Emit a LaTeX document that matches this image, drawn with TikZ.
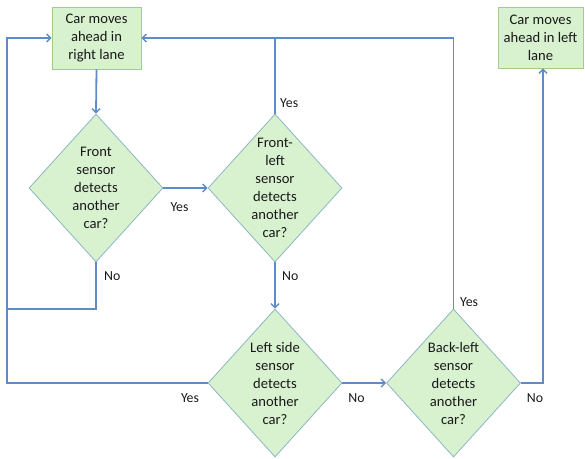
\documentclass[tikz,border=0pt]{standalone}
\usepackage{fontspec}
\setmainfont{Carlito}
\usetikzlibrary{shapes.geometric,arrows.meta}
\definecolor{boxfill}{RGB}{216,242,208}
\definecolor{boxedge}{RGB}{160,205,140}
\definecolor{diaedge}{RGB}{140,182,196}
\definecolor{flow}{RGB}{96,140,198}
\definecolor{ink}{RGB}{25,25,25}
\tikzset{
  stepbox/.style={draw=boxedge, fill=boxfill, line width=0.8pt, inner sep=0pt,
    align=center, text=ink, font=\fontsize{14.6}{18}\selectfont},
  dia/.style={diamond, draw=diaedge, fill=boxfill, line width=0.8pt,
    minimum width=134pt, minimum height=148pt, inner sep=0pt},
  dtxt/.style={align=center, text=ink, font=\fontsize{14.6}{18}\selectfont, inner sep=0pt},
  lbl/.style={text=ink, font=\fontsize{13.8}{15}\selectfont, inner sep=0pt},
  link/.style={draw=flow, line width=1.8pt},
  go/.style={link, -{Straight Barb[length=4pt,width=8pt,line width=1.4pt]}}
}
\begin{document}
\begin{tikzpicture}[x=1pt,y=-1pt]
\useasboundingbox (0,0) rectangle (585,458);

% process boxes
\node[stepbox, minimum width=89pt, minimum height=62pt] (right) at (96.5,38)
  {Car moves\\ahead in\\right lane};
\node[stepbox, minimum width=85pt, minimum height=61pt] (left) at (540.5,37.5)
  {Car moves\\ahead in left\\lane};

% decisions
\node[dia, label={[dtxt]center:Front\\sensor\\detects\\another\\car?}] (front) at (96,188) {};
\node[dia, label={[dtxt]center:Front-\\left\\sensor\\detects\\another\\car?}] (frontleft) at (275,188) {};
\node[dia, label={[dtxt]center:Left side\\sensor\\detects\\another\\car?}] (side) at (275,383) {};
\node[dia, label={[dtxt]center:Back-left\\sensor\\detects\\another\\car?}] (back) at (453.5,383) {};

% routing points
\coordinate (loopx) at (7,0);
\coordinate (merge) at (96,309);
\coordinate (exitx) at (543,383);

% connectors
\draw[go] (right.south) -- (front.north);
\draw[go] (front.east) -- (frontleft.west);
\draw[link] (frontleft.north) -- (frontleft.north |- right.east);
\draw[go] (back.north) |- (right.east);
\draw[go] (frontleft.south) -- (side.north);
\draw[link] (front.south) -- (merge) -- (merge -| loopx);
\draw[go] (side.west) -- (side.west -| loopx) -- (loopx |- right.west) -- (right.west);
\draw[go] (side.east) -- (back.west);
\draw[go] (back.east) -- (exitx) -- (exitx |- left.south);

% branch labels
\node[lbl, anchor=west] (l1) at (280,103) {Yes};
\node[lbl] (l2) at (179.5,207.5) {Yes};
\node[lbl, anchor=west] (l3) at (104,276) {No};
\node[lbl, anchor=west] (l4) at (282,276) {No};
\node[lbl] (l5) at (190,398) {Yes};
\node[lbl] (l6) at (356.5,398) {No};
\node[lbl] (l7) at (469,302) {Yes};
\node[lbl] (l8) at (535,398) {No};
\end{tikzpicture}
\end{document}
